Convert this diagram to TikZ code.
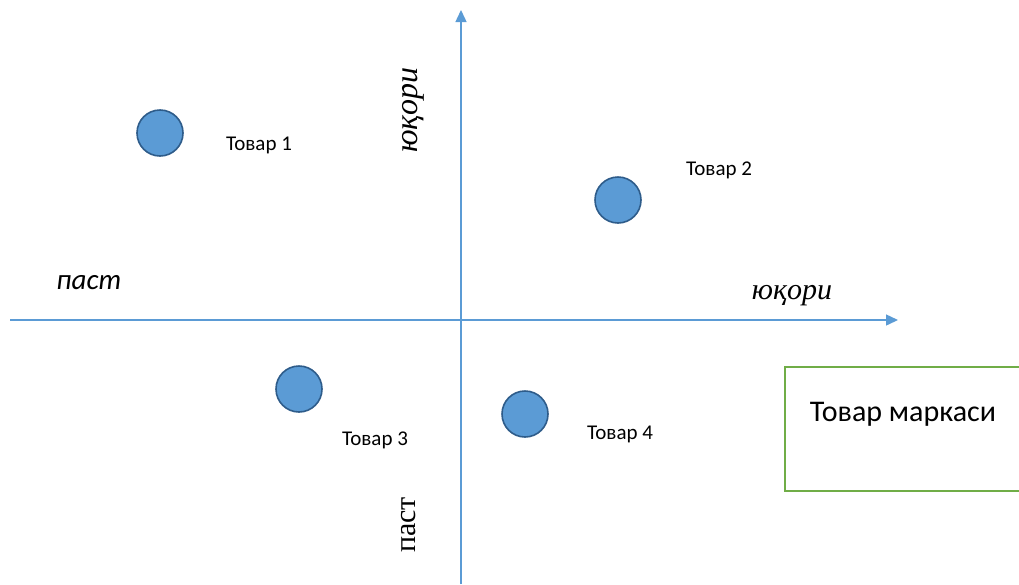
\documentclass[tikz,border=0pt]{standalone}
\usepackage{fontspec}
\setmainfont{Liberation Serif}
\newfontfamily\calib{Carlito}
\usetikzlibrary{arrows.meta}
\definecolor{axisblue}{HTML}{5B9BD5}
\definecolor{dotedge}{HTML}{2E5C8A}
\definecolor{boxgreen}{HTML}{70AD47}
\begin{document}
\begin{tikzpicture}[x=1pt,y=-1pt,
    axis/.style={draw=axisblue,line width=1.4pt,-{Triangle[length=12pt,width=11pt]}},
    tovar/.style={circle,draw=dotedge,fill=axisblue,line width=1.6pt,minimum size=46pt,inner sep=0pt},
    tlabel/.style={font=\calib\fontsize{21}{25}\selectfont}]
                \useasboundingbox (0,0) rectangle (1019,584);
                \coordinate (xl) at (10,320);
                \coordinate (xr) at (898,320);
                \coordinate (yb) at (461,584);
                \coordinate (yt) at (461,10);
                \draw[axis] (xl)--(xr);
                \draw[axis] (yb)--(yt);
                \node[tovar] (t1) at (160,133) {};
                \node[tovar] (t2) at (618,200) {};
                \node[tovar] (t3) at (299,389) {};
                \node[tovar] (t4) at (525,414) {};
                \node[tlabel] (l1) at (259,145) {Товар 1};
                \node[tlabel] (l2) at (719,170) {Товар 2};
                \node[tlabel] (l3) at (375,440) {Товар 3};
                \node[tlabel] (l4) at (620,434) {Товар 4};
                \node[font=\calib\itshape\fontsize{29}{33}\selectfont] (xlow) at (89,283) {паст};
                \node[font=\itshape\fontsize{30}{34}\selectfont] (xhigh) at (792,296) {юқори};
                \node[font=\itshape\fontsize{32}{36}\selectfont,rotate=90] (yhigh) at (413,110) {юқори};
                \node[font=\fontsize{30}{34}\selectfont,rotate=90] (ylow) at (409,525) {паст};
                \node[draw=boxgreen,line width=1.6pt,rectangle,minimum width=250pt,minimum height=124pt,anchor=north west,
                      inner sep=0pt] (brand) at (784,366) {};
                \node[font=\calib\fontsize{30}{34}\selectfont] (brandtxt) at (903,414) {Товар маркаси};
            \end{tikzpicture}
\end{document}
